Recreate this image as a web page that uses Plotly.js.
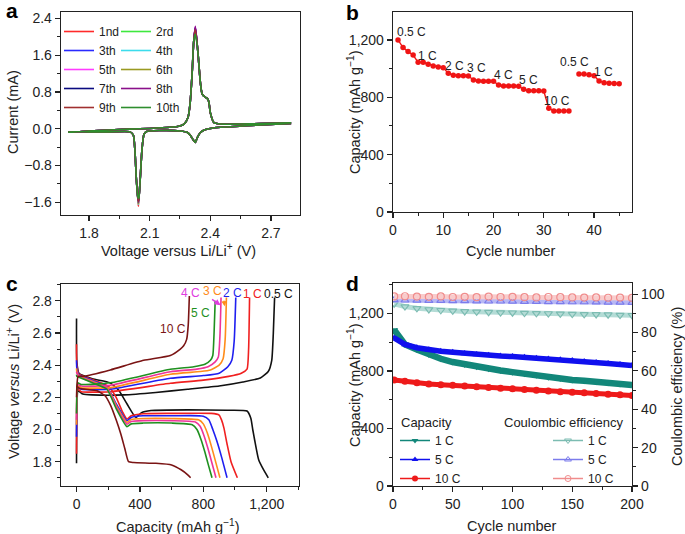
<!DOCTYPE html>
<html>
<head>
<meta charset="utf-8">
<script src="https://cdn.plot.ly/plotly-3.0.1.min.js"></script>
<style>html,body{margin:0;padding:0;background:#fff;}#chart{width:685px;height:534px;}</style>
</head>
<body>
<div id="chart"></div>
<script>
// ---------------- Panel a: cyclic voltammetry ----------------
const cvCycles = ['1nd','2rd','3th','4th','5th','6th','7th','8th','9th','10th'];
const cvColors = ['#ff2a2a','#3ee83e','#2a2aff','#3cdcec','#ff3cff','#9a9a22','#0a0a80','#8a108a','#a03030','#2e8e2e'];
const cvVoltage = [2.80,2.60,2.45,2.40,2.37,2.35,2.335,2.326,2.315,2.30,2.285,2.25,2.15,2.085,2.072,2.062,2.053,2.047,2.044,2.040,2.034,2.027,2.019,2.003,1.90,1.80,1.70,
                   1.70,1.80,1.90,2.00,2.10,2.20,2.25,2.27,2.29,2.30,2.31,2.318,2.326,2.338,2.351,2.36,2.376,2.385,2.393,2.40,2.418,2.45,2.55,2.65,2.80];
const cvCurrent = [0.115,0.07,0.03,0.005,-0.03,-0.09,-0.2,-0.3,-0.24,-0.14,-0.08,-0.05,-0.04,-0.06,-0.12,-0.45,-1.1,-1.5,-1.6,-1.45,-1.1,-0.48,-0.14,-0.07,-0.07,-0.07,-0.07,
                   -0.08,-0.05,-0.03,-0.01,0.005,0.03,0.06,0.1,0.25,0.55,1.2,1.9,2.2,1.7,1.0,0.75,0.68,0.66,0.58,0.35,0.13,0.1,0.1,0.11,0.13];
const cvAnodicPeak = [2.19,2.12,2.20,2.18,2.22,2.17,2.20,2.23,2.16,2.06];
const cvCathodicPeak = [-1.69,-1.58,-1.62,-1.65,-1.60,-1.63,-1.57,-1.60,-1.58,-1.52];

// ---------------- Panel b: rate capability ----------------
const rateCycle = [1,2,3,4,5,6,7,8,9,10,11,12,13,14,15,16,17,18,19,20,21,22,23,24,25,26,27,28,29,30,31,32,33,34,35,36,37,38,39,40,41,42,43,44,45];
const rateCapacity = [1200,1147,1119,1095,1044,1044,1030,1019,1012,1007,967,953,951,950,949,921,913,912,912,912,886,879,878,878,877,856,846,845,845,844,723,705,705,705,705,null,963,963,958,951,914,902,898,896,894];
const rateLabels = ['0.5 C','1 C','2 C','3 C','4 C','5 C','10 C','0.5 C','1 C'];
const rateLabelX = [3.6,6.8,12.3,16.7,21.9,27.0,32.7,36.2,41.9];
const rateLabelY = [1256,1088,1021,1007,956,921,777,1049,975];

// ---------------- Panel c: charge / discharge profiles ----------------
const profRates = ['0.5 C','1 C','2 C','3 C','4 C','5 C','10 C'];
const profColors = ['#111111','#f02020','#1f1ff0','#ff8c1a','#ee3399','#1f901f','#7a1414'];
const labelColors = ['#111111','#f02020','#1f1ff0','#ff8c1a','#e03ce0','#1f901f','#7a1414'];
const disCap = [
  [0,2,15,100,210,265,318,375,410,470,700,950,1076,1100,1112,1125,1150,1180,1210],
  [0,2,15,100,200,250,290,318,345,420,600,850,900,915,930,950,975,1015],
  [0,2,15,100,192,250,318,345,420,600,800,835,860,885,915,950],
  [0,2,15,100,192,250,318,345,420,600,770,800,825,850,875,905],
  [0,2,15,100,192,250,318,345,420,600,750,780,805,830,855,880],
  [0,2,15,100,192,250,318,345,420,600,730,760,785,810,832,855],
  [0,20,60,130,180,215,250,280,305,328,360,500,600,660,700,720]
];
const disVolt = [
  [2.69,2.42,2.35,2.315,2.29,2.245,2.16,2.075,2.105,2.118,2.122,2.12,2.115,2.07,2.0,1.93,1.81,1.75,1.70],
  [2.53,2.40,2.345,2.31,2.27,2.20,2.11,2.065,2.085,2.098,2.10,2.10,2.09,2.06,2.01,1.91,1.80,1.70],
  [2.43,2.38,2.34,2.305,2.265,2.16,2.055,2.075,2.085,2.085,2.083,2.06,2.0,1.93,1.83,1.70],
  [2.38,2.36,2.335,2.30,2.262,2.15,2.045,2.062,2.068,2.068,2.06,2.035,1.98,1.90,1.81,1.70],
  [2.36,2.35,2.33,2.295,2.258,2.14,2.033,2.05,2.055,2.055,2.047,2.02,1.96,1.88,1.79,1.70],
  [2.34,2.33,2.325,2.29,2.25,2.13,2.018,2.035,2.04,2.04,2.03,2.0,1.94,1.86,1.78,1.70],
  [2.27,2.255,2.25,2.24,2.21,2.15,2.06,1.97,1.88,1.80,1.795,1.79,1.78,1.75,1.72,1.70]
];
const chgCap = [
  [0,2,10,40,100,300,500,700,900,1050,1160,1210,1232,1242,1250],
  [0,2,8,30,213,592,800,960,1040,1076,1086,1092],
  [0,2,8,30,213,592,800,900,955,980,995,1005],
  [0,2,8,30,213,592,780,845,900,925,938,946],
  [0,2,8,30,213,592,760,830,875,895,905,912],
  [0,2,8,30,213,592,740,810,845,860,868,875],
  [0,3,10,44,213,423,592,655,676,695,705,712]
];
const chgVolt = [
  [1.79,2.10,2.24,2.22,2.215,2.215,2.23,2.25,2.27,2.295,2.32,2.36,2.43,2.60,2.82],
  [1.85,2.15,2.25,2.235,2.235,2.287,2.307,2.33,2.35,2.375,2.50,2.82],
  [1.955,2.18,2.26,2.25,2.25,2.318,2.335,2.35,2.39,2.43,2.55,2.82],
  [2.03,2.20,2.27,2.26,2.26,2.343,2.36,2.37,2.40,2.44,2.56,2.82],
  [2.06,2.21,2.28,2.27,2.275,2.359,2.375,2.39,2.42,2.45,2.58,2.82],
  [2.10,2.22,2.29,2.28,2.29,2.374,2.39,2.405,2.43,2.46,2.60,2.80],
  [2.20,2.28,2.33,2.33,2.37,2.43,2.46,2.50,2.52,2.56,2.65,2.83]
];
const profLabelX = [1274,1113,987,857,722,785,608];
const profLabelY = [2.842,2.842,2.85,2.862,2.85,2.725,2.622];

// ---------------- Panel d: long-term cycling ----------------
const longCycle = [1,10,20,30,40,50,60,70,80,90,100,110,120,130,140,150,160,170,180,190,200];
const cap1C  = [1085,985,950,915,885,862,845,830,815,803,792,780,770,757,747,738,732,725,718,710,703];
const cap5C  = [1030,985,962,948,938,930,922,915,910,904,900,895,889,884,878,873,866,859,852,845,838];
const cap10C = [738,728,718,710,705,700,695,690,685,680,676,671,666,661,656,652,648,643,638,634,630];
const ce1C   = [95.0,93.5,92.6,92.0,91.6,91.3,91.0,90.8,90.6,90.4,90.3,90.1,90.0,89.9,89.7,89.6,89.5,89.4,89.3,89.1,89.0];
const ce5C   = [97.0,96.8,96.7,96.6,96.6,96.5,96.5,96.4,96.3,96.3,96.2,96.1,96.1,96.0,96.0,95.9,95.9,95.8,95.7,95.7,95.6];
const ce10C  = [98.8,98.9,98.7,98.6,98.8,98.5,98.6,98.4,98.7,98.5,98.6,98.4,98.3,98.5,98.4,98.3,98.2,98.3,98.1,98.2,98.0];
const longRates = ['1 C','5 C','10 C'];

// ---------------- helpers ----------------
const W = 685, H = 534;
const FONT = 'Liberation Sans, Arial, sans-serif';
const INK = '#222222';
const px = v => v / W;
const py = v => 1 - v / H;

function axis(extra) {
  return Object.assign({
    showline: true, linecolor: INK, linewidth: 1.3, mirror: true,
    ticks: 'outside', ticklen: 5, tickwidth: 1.2, tickcolor: INK,
    showgrid: false, zeroline: false, fixedrange: true,
    tickfont: {family: FONT, size: 14, color: INK}
  }, extra);
}
function minor(d) { return {dtick: d, ticks: 'outside', ticklen: 3, tickwidth: 1, tickcolor: INK, showgrid: false}; }

const traces = [];

// Panel a traces
const anodicIdx = cvVoltage.lastIndexOf(2.326);
const cathodicIdx = cvVoltage.indexOf(2.044);
cvCycles.forEach((name, i) => {
  const cur = cvCurrent.slice();
  cur[anodicIdx] = cvAnodicPeak[i];
  cur[cathodicIdx] = cvCathodicPeak[i];
  traces.push({
    type: 'scatter', mode: 'lines', x: cvVoltage, y: cur, name: name,
    xaxis: 'x', yaxis: 'y', line: {color: cvColors[i], width: 1.6, shape: 'spline', smoothing: 0.6},
    legend: (i % 2 === 0) ? 'legend' : 'legend2', showlegend: true
  });
});

// Panel b trace
traces.push({
  type: 'scatter', mode: 'lines+markers', x: rateCycle, y: rateCapacity, xaxis: 'x2', yaxis: 'y2',
  line: {color: '#f01414', width: 1.4}, marker: {color: '#f01414', size: 5.5}, showlegend: false, connectgaps: false
});

// Panel c traces
profRates.forEach((r, i) => {
  traces.push({type: 'scatter', mode: 'lines', x: disCap[i], y: disVolt[i], xaxis: 'x3', yaxis: 'y3',
    line: {color: profColors[i], width: 1.6, shape: 'spline', smoothing: 0.5}, showlegend: false, name: r + ' discharge'});
  traces.push({type: 'scatter', mode: 'lines', x: chgCap[i], y: chgVolt[i], xaxis: 'x3', yaxis: 'y3',
    line: {color: profColors[i], width: 1.6, shape: 'spline', smoothing: 0.5}, showlegend: false, name: r + ' charge'});
});

// Panel d traces
const capSeries = [cap1C, cap5C, cap10C];
const ceSeries = [ce1C, ce5C, ce10C];
const capColors = ['#12877a', '#1010ee', '#ee1a1a'];
const ceLineColors = ['#b4dcd6', '#b8b8f4', '#f8cccc'];
const ceMarkColors = ['#7cbcb2', '#7c7cec', '#f08c8c'];
const capSymbols = ['triangle-down', 'triangle-up', 'circle'];
const ceSymbols = ['triangle-down-open', 'triangle-up-open', 'circle-open'];
const capWidths = [6.5, 5.5, 5];
ceSeries.forEach((s, i) => {
  traces.push({type: 'scatter', mode: 'lines+markers', x: longCycle, y: s, xaxis: 'x4', yaxis: 'y5',
    line: {color: ceLineColors[i], width: 5}, marker: {symbol: ceSymbols[i], size: 7, color: ceMarkColors[i], line: {width: 1.2}},
    showlegend: false});
});
capSeries.forEach((s, i) => {
  traces.push({type: 'scatter', mode: 'lines+markers', x: longCycle, y: s, xaxis: 'x4', yaxis: 'y4',
    line: {color: capColors[i], width: capWidths[i]}, marker: {symbol: capSymbols[i], size: 7, color: capColors[i]},
    showlegend: false});
});
// legend entries for panel d
longRates.forEach((r, i) => {
  traces.push({type: 'scatter', mode: 'lines+markers', x: [null], y: [null], xaxis: 'x4', yaxis: 'y4', name: r,
    line: {color: capColors[i], width: 1.5}, marker: {symbol: capSymbols[i], size: 6, color: capColors[i]},
    legend: 'legend3', showlegend: true});
});
longRates.forEach((r, i) => {
  traces.push({type: 'scatter', mode: 'lines+markers', x: [null], y: [null], xaxis: 'x4', yaxis: 'y5', name: r,
    line: {color: ceMarkColors[i], width: 1.5}, marker: {symbol: ceSymbols[i], size: 6, color: ceMarkColors[i]},
    legend: 'legend4', showlegend: true});
});

// ---------------- annotations ----------------
const ann = [];
function title(text, x, y, angle, size) {
  ann.push({text: text, xref: 'paper', yref: 'paper', x: px(x), y: py(y), xanchor: 'center', yanchor: 'middle',
    showarrow: false, textangle: angle || 0, font: {family: FONT, size: size || 14.5, color: INK}});
}
title('Voltage versus Li/Li<sup>+</sup> (V)', 178, 250);
title('Current (mA)', 13, 112, -90);
title('Cycle number', 511, 251);
title('Capacity (mAh g<sup>−1</sup>)', 354, 112, -90);
title('Capacity (mAh g<sup>−1</sup>)', 178, 526);
title('Voltage <i>versus</i> Li/Li<sup>+</sup> (V)', 13, 382, -90);
title('Cycle number', 512, 526);
title('Capacity (mAh g<sup>−1</sup>)', 354, 385, -90);
title('Coulombic efficiency (%)', 677, 387, -90);
[['a', 12, 10], ['b', 353, 12], ['c', 12, 283], ['d', 353, 283]].forEach(l => {
  ann.push({text: '<b>' + l[0] + '</b>', xref: 'paper', yref: 'paper', x: px(l[1]), y: py(l[2]), xanchor: 'center', yanchor: 'middle',
    showarrow: false, font: {family: FONT, size: 21, color: '#000'}});
});
rateLabels.forEach((t, i) => {
  ann.push({text: t, xref: 'x2', yref: 'y2', x: rateLabelX[i], y: rateLabelY[i], xanchor: 'center', yanchor: 'middle',
    showarrow: false, font: {family: FONT, size: 12, color: INK}});
});
profRates.forEach((t, i) => {
  ann.push({text: t, xref: 'x3', yref: 'y3', x: profLabelX[i], y: profLabelY[i], xanchor: 'center', yanchor: 'middle',
    showarrow: false, font: {family: FONT, size: 12, color: labelColors[i]}});
});
ann.push({text: '', xref: 'x3', yref: 'y3', axref: 'x3', ayref: 'y3', x: 909, y: 2.772, ax: 846, ay: 2.815,
  showarrow: true, arrowhead: 2, arrowsize: 0.8, arrowwidth: 1.5, arrowcolor: '#e03ce0'});
ann.push({text: '', xref: 'x3', yref: 'y3', axref: 'x3', ayref: 'y3', x: 935, y: 2.765, ax: 929, ay: 2.81,
  showarrow: true, arrowhead: 2, arrowsize: 0.8, arrowwidth: 1.3, arrowcolor: '#ff8c1a'});
ann.push({text: 'Capacity', xref: 'paper', yref: 'paper', x: px(399), y: py(422), xanchor: 'left', yanchor: 'middle',
  showarrow: false, font: {family: FONT, size: 13, color: INK}});
ann.push({text: 'Coulombic efficiency', xref: 'paper', yref: 'paper', x: px(502), y: py(422), xanchor: 'left', yanchor: 'middle',
  showarrow: false, font: {family: FONT, size: 13, color: INK}});

function legendAt(x, y) {
  return {x: px(x), y: py(y), xanchor: 'left', yanchor: 'top', bgcolor: 'rgba(0,0,0,0)', borderwidth: 0,
    font: {family: FONT, size: 12, color: INK}, tracegroupgap: 0, itemwidth: 30, orientation: 'v', itemclick: false, itemdoubleclick: false};
}

const layout = {
  width: W, height: H, margin: {l: 0, r: 0, t: 0, b: 0}, paper_bgcolor: '#fff', plot_bgcolor: 'rgba(0,0,0,0)',
  font: {family: FONT, color: INK}, showlegend: true,
  legend: legendAt(59, 17), legend2: legendAt(116, 17), legend3: legendAt(395, 426), legend4: legendAt(548, 426),
  xaxis: axis({domain: [px(61), px(300)], anchor: 'y', range: [1.661, 2.844], tick0: 1.8, dtick: 0.3, tickformat: '.1f', minor: minor(0.15)}),
  yaxis: axis({domain: [py(215), py(12)], anchor: 'x', range: [-1.88, 2.54], tick0: 0, dtick: 0.8, tickformat: '.1f', minor: minor(0.4)}),
  xaxis2: axis({domain: [px(393), px(632)], anchor: 'y2', range: [0, 47.55], tick0: 0, dtick: 10, minor: minor(5)}),
  yaxis2: axis({domain: [py(212), py(12)], anchor: 'x2', range: [0, 1395], tick0: 0, dtick: 400, tickformat: ',', minor: minor(200)}),
  xaxis3: axis({domain: [px(61), px(299)], anchor: 'y3', range: [-98, 1404], tick0: 0, dtick: 400, tickformat: ',', minor: minor(200)}),
  yaxis3: axis({domain: [py(486), py(284)], anchor: 'x3', range: [1.649, 2.904], tick0: 1.8, dtick: 0.2, tickformat: '.1f', minor: minor(0.1)}),
  xaxis4: axis({domain: [px(393), px(632)], anchor: 'y4', range: [0, 200], tick0: 0, dtick: 50, minor: minor(25)}),
  yaxis4: axis({domain: [py(486), py(283)], anchor: 'x4', range: [0, 1412], tick0: 0, dtick: 400, tickformat: ',', minor: minor(200)}),
  yaxis5: axis({domain: [py(486), py(283)], anchor: 'x4', overlaying: 'y4', side: 'right', mirror: false, range: [0, 105.8], tick0: 0, dtick: 20, minor: minor(10)}),
  annotations: ann
};

Plotly.newPlot('chart', traces, layout, {displayModeBar: false, staticPlot: true});
</script>
</body>
</html>
